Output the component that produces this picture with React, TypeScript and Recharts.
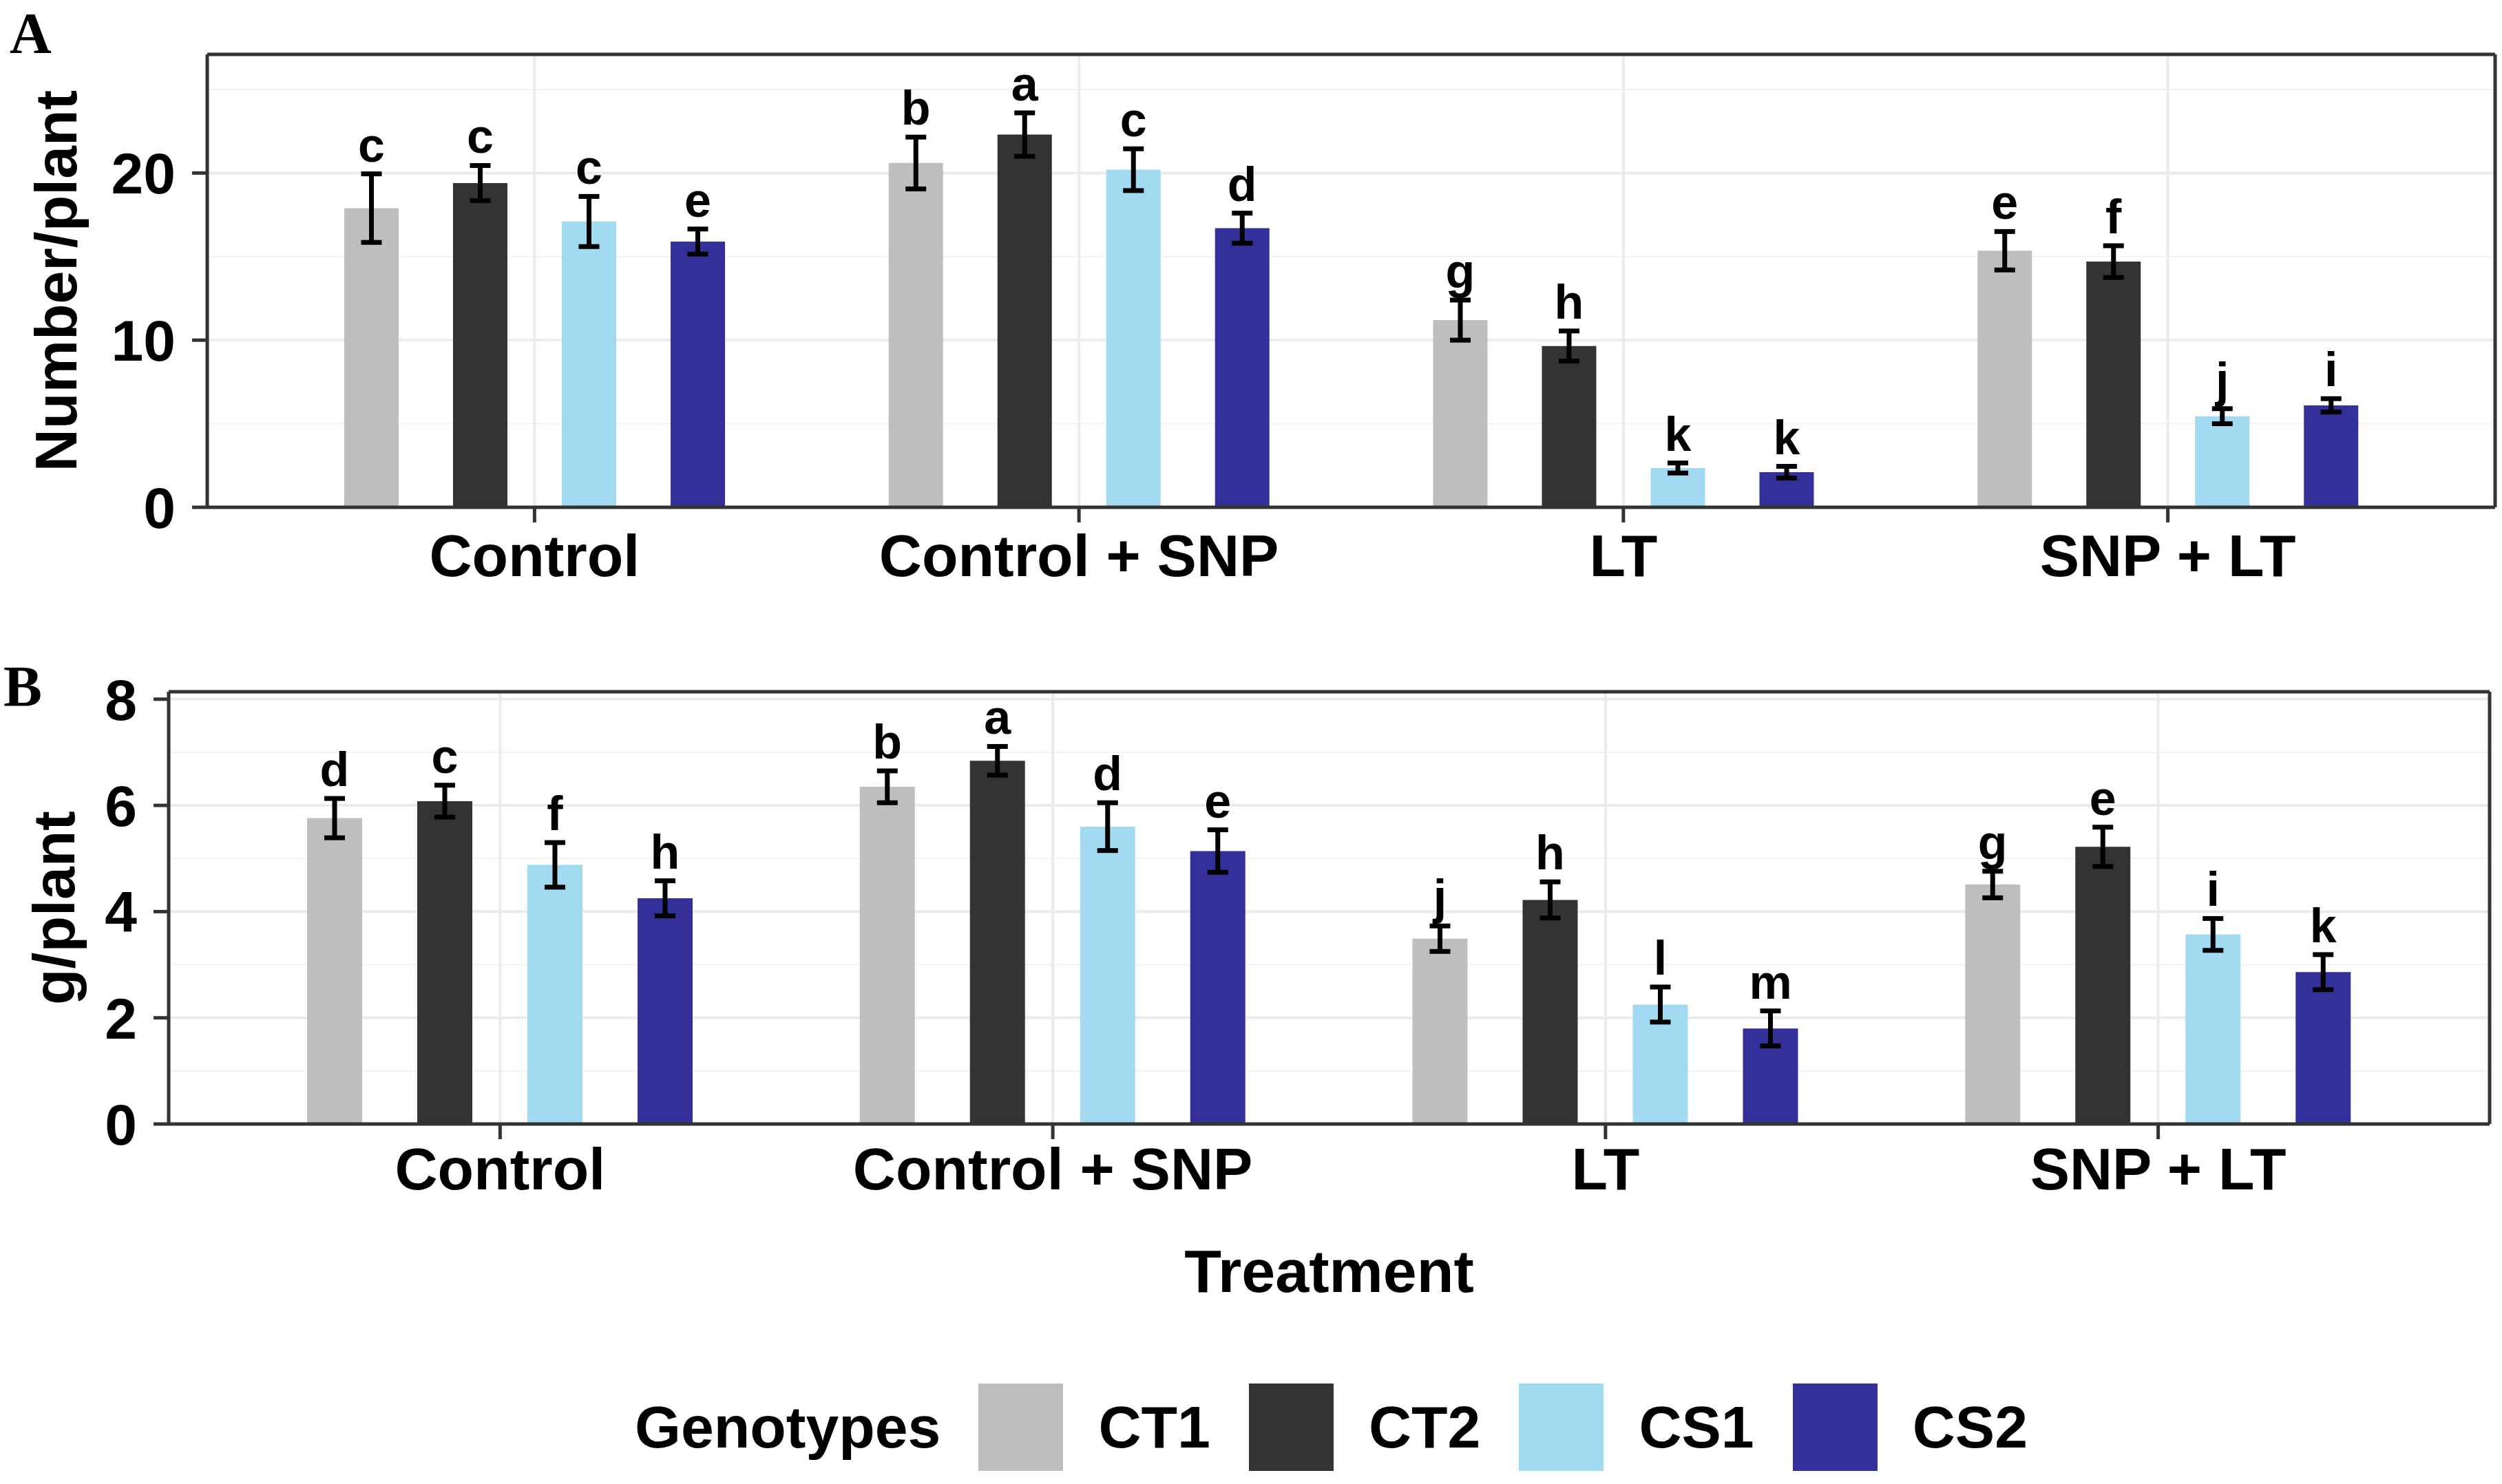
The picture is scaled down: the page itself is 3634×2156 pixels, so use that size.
import React from 'react';
import { BarChart, Bar, XAxis, YAxis, CartesianGrid, ErrorBar, LabelList } from 'recharts';

const treatments = ['Control', 'Control + SNP', 'LT', 'SNP + LT'];
const genotypes = ['CT1', 'CT2', 'CS1', 'CS2'];
const colors = ['#BEBEBE', '#333333', '#A2DAF1', '#33309A'];

// Panel A: number per plant (mean, se, letter) per genotype, in treatment order
const numCT1 = [17.9, 20.6, 11.2, 15.35];
const numCT2 = [19.4, 22.3, 9.65, 14.7];
const numCS1 = [17.1, 20.2, 2.35, 5.45];
const numCS2 = [15.9, 16.7, 2.1, 6.1];
const numSeCT1 = [2.05, 1.55, 1.2, 1.15];
const numSeCT2 = [1.05, 1.3, 0.9, 0.95];
const numSeCS1 = [1.5, 1.25, 0.3, 0.45];
const numSeCS2 = [0.75, 0.9, 0.35, 0.4];
const numLetCT1 = ['c', 'b', 'g', 'e'];
const numLetCT2 = ['c', 'a', 'h', 'f'];
const numLetCS1 = ['c', 'c', 'k', 'j'];
const numLetCS2 = ['e', 'd', 'k', 'i'];

// Panel B: g per plant
const gCT1 = [5.76, 6.35, 3.49, 4.51];
const gCT2 = [6.08, 6.84, 4.22, 5.22];
const gCS1 = [4.88, 5.6, 2.25, 3.57];
const gCS2 = [4.25, 5.14, 1.8, 2.86];
const gSeCT1 = [0.37, 0.3, 0.24, 0.25];
const gSeCT2 = [0.3, 0.27, 0.34, 0.37];
const gSeCS1 = [0.42, 0.45, 0.33, 0.3];
const gSeCS2 = [0.33, 0.4, 0.33, 0.33];
const gLetCT1 = ['d', 'b', 'j', 'g'];
const gLetCT2 = ['c', 'a', 'h', 'e'];
const gLetCS1 = ['f', 'd', 'l', 'i'];
const gLetCS2 = ['h', 'e', 'm', 'k'];

const ticksA = [0, 10, 20];
const minorA = [5, 15, 25];
const ticksB = [0, 2, 4, 6, 8];
const minorB = [1, 3, 5, 7];

const FONT = "'Liberation Sans', Arial, Helvetica, sans-serif";
const DARK = '#333333';

function makeRows(vals: number[][], ses: number[][], lets: string[][]) {
  return treatments.map((t, i) => {
    const row: any = { treatment: t };
    genotypes.forEach((g, k) => {
      row[g] = vals[k][i];
      row[g + '_se'] = ses[k][i];
      row[g + '_lab'] = `${lets[k][i]}|${ses[k][i]}|${vals[k][i]}`;
    });
    return row;
  });
}

const rowsA = makeRows(
  [numCT1, numCT2, numCS1, numCS2],
  [numSeCT1, numSeCT2, numSeCS1, numSeCS2],
  [numLetCT1, numLetCT2, numLetCS1, numLetCS2]
);
const rowsB = makeRows(
  [gCT1, gCT2, gCS1, gCS2],
  [gSeCT1, gSeCT2, gSeCS1, gSeCS2],
  [gLetCT1, gLetCT2, gLetCS1, gLetCS2]
);

// letter sits just above the top of the error bar
const letterContent = (props: any) => {
  const vb = props.viewBox || {};
  const x = Number(vb.x ?? props.x);
  const y = Number(vb.y ?? props.y);
  const w = Number(vb.width ?? props.width);
  const h = Number(vb.height ?? props.height);
  const [lab, se, val] = String(props.value).split('|');
  const perUnit = h / Number(val);
  const top = y - Number(se) * perUnit;
  return (
    <text x={x + w / 2} y={top - 18} textAnchor="middle" fontSize={70} fontWeight="bold" fill="#000">
      {lab}
    </text>
  );
};

interface PanelProps {
  rows: any[];
  top: number;
  height: number;
  marginTop: number;
  marginRight: number;
  yWidth: number;
  xHeight: number;
  tickMarginX: number;
  max: number;
  ticks: number[];
  minor: number[];
  barSize: number;
  yLabel: string;
  yLabelX: number;
  xLabel?: string;
}

const Panel: React.FC<PanelProps> = (p) => {
  const border = { stroke: DARK, strokeWidth: 5 };
  return (
    <div style={{ position: 'absolute', left: 0, top: p.top }}>
      <BarChart
        width={3634}
        height={p.height}
        data={p.rows}
        margin={{ top: p.marginTop - 1, right: p.marginRight - 1, left: 0, bottom: 0 }}
        barSize={p.barSize}
        barGap={p.barSize}
      >
        <CartesianGrid vertical={false} horizontalValues={p.minor} stroke="#F2F2F2" strokeWidth={2} />
        <CartesianGrid stroke="#EBEBEB" strokeWidth={4} />
        <XAxis
          dataKey="treatment"
          interval={0}
          padding={{ left: 80, right: 80 }}
          height={p.xHeight}
          tickSize={22}
          tickMargin={p.tickMarginX}
          tick={{ fill: '#000', fontSize: 86, fontWeight: 'bold' }}
          tickLine={border}
          axisLine={border}
          label={(lp: any) => {
            if (!p.xLabel) return null;
            const vb = lp.viewBox || {};
            return (
              <text x={vb.x + vb.width / 2} y={vb.y + 244} textAnchor="middle" fontSize={88} fontWeight="bold" fill="#000">
                {p.xLabel}
              </text>
            );
          }}
        />
        {/* thin extra axes only to draw the top and right panel border */}
        <XAxis xAxisId="top" orientation="top" dataKey="treatment" height={1} tick={false} tickLine={false} axisLine={border} />
        <YAxis
          type="number"
          domain={[0, p.max]}
          ticks={p.ticks}
          interval={0}
          width={p.yWidth}
          tickSize={22}
          tickMargin={24}
          tick={{ fill: '#000', fontSize: 84, fontWeight: 'bold' }}
          tickLine={border}
          axisLine={border}
          label={(lp: any) => {
            const vb = lp.viewBox || {};
            const cy = vb.y + vb.height / 2;
            return (
              <text
                x={p.yLabelX}
                y={cy}
                transform={`rotate(-90, ${p.yLabelX}, ${cy})`}
                textAnchor="middle"
                dominantBaseline="central"
                fontSize={86}
                fontWeight="bold"
                fill="#000"
              >
                {p.yLabel}
              </text>
            );
          }}
        />
        <YAxis yAxisId="right" orientation="right" type="number" domain={[0, p.max]} width={1} tick={false} tickLine={false} axisLine={border} />
        {genotypes.map((g, k) => (
          <Bar key={g} dataKey={g} fill={colors[k]} isAnimationActive={false}>
            <ErrorBar dataKey={g + '_se'} width={15} strokeWidth={7} stroke="#000" direction="y" />
            <LabelList dataKey={g + '_lab'} content={letterContent} />
          </Bar>
        ))}
      </BarChart>
    </div>
  );
};

const App: React.FC = () => {
  return (
    <div
      style={{
        position: 'absolute',
        left: 0,
        top: 0,
        width: 3634,
        height: 2156,
        background: '#fff',
        fontFamily: FONT,
        overflow: 'hidden',
      }}
    >
      <Panel
        rows={rowsA}
        top={0}
        height={900}
        marginTop={79}
        marginRight={10}
        yWidth={301}
        xHeight={163}
        tickMarginX={17}
        max={27.1}
        ticks={ticksA}
        minor={minorA}
        barSize={79}
        yLabel="Number/plant"
        yLabelX={81}
      />
      <Panel
        rows={rowsB}
        top={900}
        height={1100}
        marginTop={105}
        marginRight={18}
        yWidth={245}
        xHeight={367}
        tickMarginX={12}
        max={8.14}
        ticks={ticksB}
        minor={minorB}
        barSize={80}
        yLabel="g/plant"
        yLabelX={78}
        xLabel="Treatment"
      />
      <div
        style={{
          position: 'absolute',
          left: 14,
          top: 3,
          fontFamily: "'Liberation Serif', 'Times New Roman', serif",
          fontWeight: 'bold',
          fontSize: 84,
          lineHeight: 1.1,
        }}
      >
        A
      </div>
      <div
        style={{
          position: 'absolute',
          left: 5,
          top: 952,
          fontFamily: "'Liberation Serif', 'Times New Roman', serif",
          fontWeight: 'bold',
          fontSize: 84,
          lineHeight: 1.1,
        }}
      >
        B
      </div>
      <div
        style={{
          position: 'absolute',
          left: 922,
          top: 2010,
          height: 127,
          display: 'flex',
          alignItems: 'center',
          fontSize: 86,
          fontWeight: 'bold',
          color: '#000',
        }}
      >
        <span style={{ marginRight: 55 }}>Genotypes</span>
        {genotypes.map((g, k) => (
          <React.Fragment key={g}>
            <span style={{ display: 'inline-block', width: 123, height: 127, background: colors[k], marginRight: 51 }} />
            <span style={{ marginRight: 56 }}>{g}</span>
          </React.Fragment>
        ))}
      </div>
    </div>
  );
};

export default App;
